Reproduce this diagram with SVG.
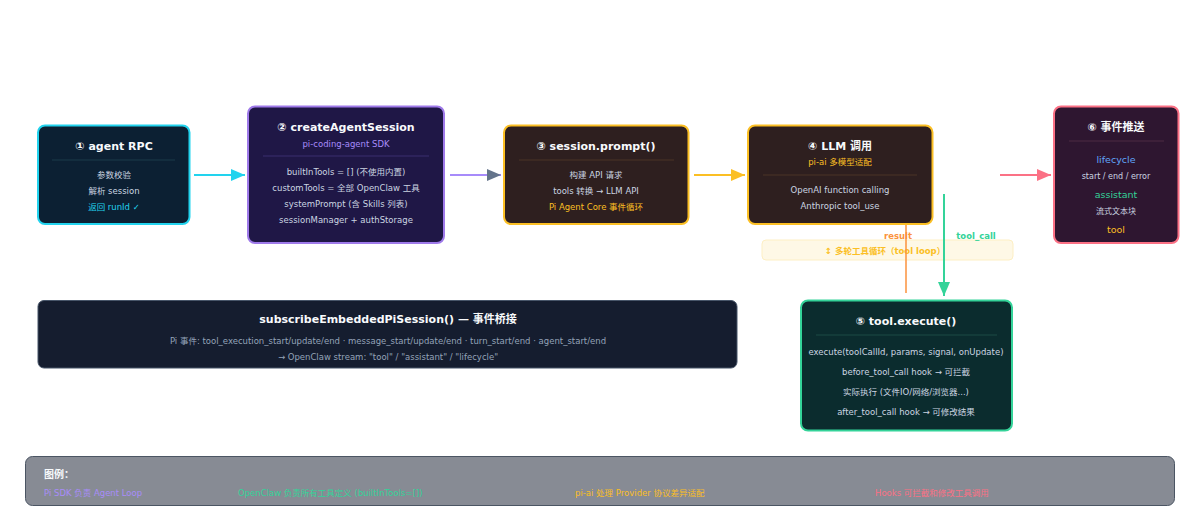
<svg xmlns="http://www.w3.org/2000/svg" width="1200" height="525" viewBox="0 0 1200 525">
<defs>
<style>
text{font-family:"DejaVu Sans","Noto Sans CJK SC",sans-serif;}
.t{font-size:11px;font-weight:bold;fill:#f8fafc;text-anchor:middle;}
.b{font-size:8.5px;fill:#cbd5e1;text-anchor:middle;}
.s{font-size:8.5px;text-anchor:middle;}
.lg{font-size:8.5px;}
</style>
<marker id="ac" viewBox="0 0 14 12" refX="14" refY="6" markerWidth="14" markerHeight="12" markerUnits="userSpaceOnUse" orient="auto"><path d="M0,0L14,6L0,12z" fill="#22d3ee"/></marker>
<marker id="ag" viewBox="0 0 14 12" refX="14" refY="6" markerWidth="14" markerHeight="12" markerUnits="userSpaceOnUse" orient="auto"><path d="M0,0L14,6L0,12z" fill="#64748b"/></marker>
<marker id="aa" viewBox="0 0 14 12" refX="14" refY="6" markerWidth="14" markerHeight="12" markerUnits="userSpaceOnUse" orient="auto"><path d="M0,0L14,6L0,12z" fill="#fbbf24"/></marker>
<marker id="ap" viewBox="0 0 14 12" refX="14" refY="6" markerWidth="14" markerHeight="12" markerUnits="userSpaceOnUse" orient="auto"><path d="M0,0L14,6L0,12z" fill="#fb7185"/></marker>
<marker id="ae" viewBox="0 0 14 12" refX="14" refY="6" markerWidth="14" markerHeight="12" markerUnits="userSpaceOnUse" orient="auto"><path d="M0,0L14,6L0,12z" fill="#34d399"/></marker>
</defs>
<rect width="1200" height="525" fill="#ffffff"/>

<g id="loop-label">
<rect x="762" y="240" width="251" height="20" rx="4" fill="#fef8e6" stroke="#fdefc4" stroke-width="1"/>
<text x="885" y="254" class="s" style="font-weight:bold;fill:#fbbf24;">↕ 多轮工具循环（tool loop）</text>
</g>

<g id="connectors" fill="none" stroke-width="2">
<line x1="194" y1="175" x2="245" y2="175" stroke="#22d3ee" marker-end="url(#ac)"/>
<line x1="450" y1="175" x2="501" y2="175" stroke="#a78bfa" marker-end="url(#ag)"/>
<line x1="694" y1="175" x2="745" y2="175" stroke="#fbbf24" marker-end="url(#aa)"/>
<line x1="1000" y1="175" x2="1051" y2="175" stroke="#fb7185" marker-end="url(#ap)"/>
<line x1="944" y1="194" x2="944" y2="296" stroke="#34d399" marker-end="url(#ae)"/>
<line x1="906" y1="224" x2="906" y2="293" stroke="#fb923c" stroke-width="1.5"/>
<text x="898" y="239" style="font-size:8.5px;font-weight:bold;fill:#fb923c;text-anchor:middle;">result</text>
<text x="976" y="239" style="font-size:8.5px;font-weight:bold;fill:#34d399;text-anchor:middle;">tool_call</text>
</g>

<g id="n1">
<rect x="38" y="125.5" width="151.5" height="98.5" rx="7" fill="#0c2033" stroke="#22d3ee" stroke-width="2"/>
<text x="114" y="150" class="t">① agent RPC</text>
<line x1="52" y1="160" x2="175" y2="160" stroke="#1b3a4a"/>
<text x="114" y="178" class="b">参数校验</text>
<text x="114" y="194" class="b">解析 session</text>
<text x="114" y="210" class="b" style="fill:#22d3ee;">返回 runId ✓</text>
</g>

<g id="n2">
<rect x="248" y="106.5" width="196" height="136.5" rx="7" fill="#1f1746" stroke="#9f7aea" stroke-width="2"/>
<text x="346" y="131" class="t">② createAgentSession</text>
<text x="346" y="147" class="s" style="fill:#a78bfa;">pi-coding-agent SDK</text>
<line x1="263" y1="156" x2="429" y2="156" stroke="#3a2f6e"/>
<text x="346" y="175" class="b">builtInTools = [] (不使用内置)</text>
<text x="346" y="191" class="b">customTools = 全部 OpenClaw 工具</text>
<text x="346" y="207" class="b">systemPrompt (含 Skills 列表)</text>
<text x="346" y="223" class="b">sessionManager + authStorage</text>
</g>

<g id="n3">
<rect x="504" y="125.5" width="184.5" height="98.5" rx="7" fill="#2e1f1f" stroke="#fbbf24" stroke-width="2"/>
<text x="596" y="150" class="t">③ session.prompt()</text>
<line x1="519" y1="160" x2="674" y2="160" stroke="#4a3526"/>
<text x="596" y="178" class="b">构建 API 请求</text>
<text x="596" y="194" class="b">tools 转换 → LLM API</text>
<text x="596" y="210" class="b" style="fill:#fbbf24;">Pi Agent Core 事件循环</text>
</g>

<g id="n4">
<rect x="748" y="125.5" width="184.5" height="98.5" rx="7" fill="#2e1f1f" stroke="#fbbf24" stroke-width="2"/>
<text x="840" y="150" class="t">④ LLM 调用</text>
<text x="840" y="165" class="s" style="fill:#fbbf24;">pi-ai 多模型适配</text>
<line x1="763" y1="175" x2="917" y2="175" stroke="#4a3526"/>
<text x="840" y="193" class="b">OpenAI function calling</text>
<text x="840" y="209" class="b">Anthropic tool_use</text>
</g>

<g id="n6">
<rect x="1054" y="106.5" width="124.5" height="136.5" rx="7" fill="#2e1630" stroke="#fb7185" stroke-width="2"/>
<text x="1116" y="131" class="t">⑥ 事件推送</text>
<line x1="1069" y1="141" x2="1164" y2="141" stroke="#4d2a42"/>
<text x="1116" y="163" class="s" style="font-size:9.5px;fill:#60a5fa;">lifecycle</text>
<text x="1116" y="179" class="s" style="font-size:8px;fill:#cbd5e1;">start / end / error</text>
<text x="1116" y="198" class="s" style="font-size:9.5px;fill:#34d399;">assistant</text>
<text x="1116" y="214" class="s" style="font-size:8px;fill:#cbd5e1;">流式文本块</text>
<text x="1116" y="233" class="s" style="font-size:9.5px;fill:#fbbf24;">tool</text>
</g>

<g id="n5">
<rect x="801" y="300.5" width="211" height="130" rx="7" fill="#0b2c2e" stroke="#34d399" stroke-width="2"/>
<text x="906" y="325" class="t">⑤ tool.execute()</text>
<line x1="816" y1="335" x2="997" y2="335" stroke="#1c4a44"/>
<text x="906" y="355" class="b">execute(toolCallId, params, signal, onUpdate)</text>
<text x="906" y="375" class="b">before_tool_call hook → 可拦截</text>
<text x="906" y="395" class="b">实际执行 (文件IO/网络/浏览器...)</text>
<text x="906" y="415" class="b">after_tool_call hook → 可修改结果</text>
</g>

<g id="subscribe">
<rect x="38" y="300.5" width="699" height="67.5" rx="6" fill="#151d2f" stroke="#475569" stroke-width="1"/>
<text x="388" y="323" class="t">subscribeEmbeddedPiSession() — 事件桥接</text>
<text x="388" y="344" class="s" style="fill:#94a3b8;">Pi 事件: tool_execution_start/update/end · message_start/update/end · turn_start/end · agent_start/end</text>
<text x="388" y="360" class="s" style="fill:#94a3b8;">→ OpenClaw stream: "tool" / "assistant" / "lifecycle"</text>
</g>

<g id="legend">
<rect x="25.5" y="456.5" width="1149" height="49" rx="7" fill="#878b94" stroke="#4b5563" stroke-width="1"/>
<text x="44" y="478" style="font-size:10px;font-weight:bold;fill:#f8fafc;">图例：</text>
<text x="44" y="496" class="lg" style="fill:#a78bfa;">Pi SDK 负责 Agent Loop</text>
<text x="238" y="496" class="lg" style="fill:#34d399;">OpenClaw 负责所有工具定义 (builtInTools=[])</text>
<text x="575" y="496" class="lg" style="fill:#fbbf24;">pi-ai 处理 Provider 协议差异适配</text>
<text x="875" y="496" class="lg" style="fill:#fb7185;">Hooks 可拦截和修改工具调用</text>
</g>
</svg>
